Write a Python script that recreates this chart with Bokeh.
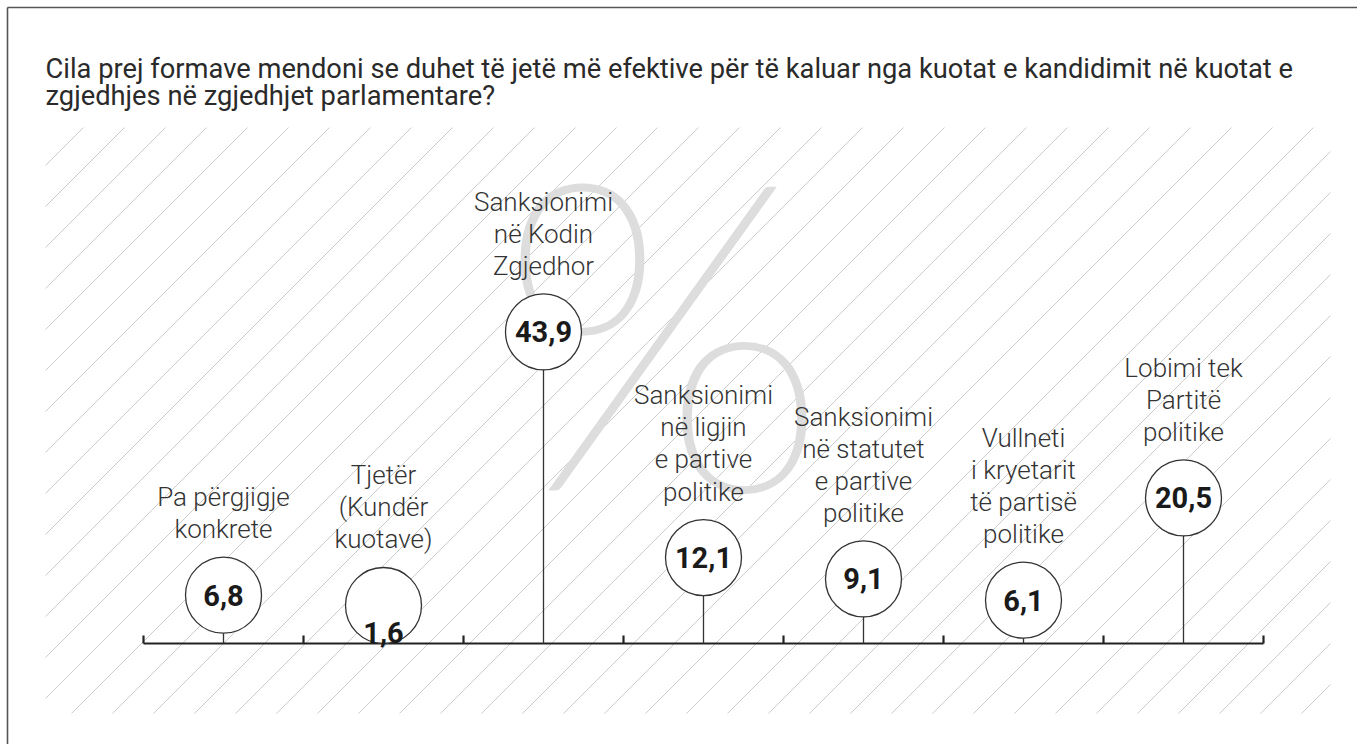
import numpy as np
from bokeh.plotting import figure
from bokeh.models import Range1d, ColumnDataSource
from bokeh.embed import file_html
from bokeh.resources import INLINE
from bokeh.core.properties import value

# ---------------- data ----------------
title_lines = [
    "Cila prej formave mendoni se duhet të jetë më efektive për të kaluar nga kuotat e kandidimit në kuotat e",
    "zgjedhjes në zgjedhjet parlamentare?",
]
categories = [
    "Pa përgjigje\nkonkrete",
    "Tjetër\n(Kundër\nkuotave)",
    "Sanksionimi\nnë Kodin\nZgjedhor",
    "Sanksionimi\nnë ligjin\ne partive\npolitike",
    "Sanksionimi\nnë statutet\ne partive\npolitike",
    "Vullneti\ni kryetarit\ntë partisë\npolitike",
    "Lobimi tek\nPartitë\npolitike",
]
values = [6.8, 1.6, 43.9, 12.1, 9.1, 6.1, 20.5]
value_labels = ["6,8", "1,6", "43,9", "12,1", "9,1", "6,1", "20,5"]

# ---------------- layout ----------------
W, H = 1357, 744
PX_PER_X = 160.0      # pixels per category
PX_PER_Y = 7.1        # pixels per percentage point
FIRST_X = 223
AXIS_Y = 643
R = 38                # circle radius, px

x_start = (0 - FIRST_X) / PX_PER_X
x_end = (W - FIRST_X) / PX_PER_X
y_start = -(H - AXIS_Y) / PX_PER_Y
y_end = AXIS_Y / PX_PER_Y

p = figure(width=W, height=H,
           x_range=Range1d(x_start, x_end), y_range=Range1d(y_start, y_end),
           x_axis_type=None, y_axis_type=None,
           toolbar_location=None, output_backend="svg",
           min_border=0, outline_line_color=None,
           background_fill_color="white", border_fill_color="white")
p.extra_x_ranges = {"px": Range1d(0, W)}
p.extra_y_ranges = {"px": Range1d(H, 0)}

# ---------------- hatch background ----------------
HX0, HX1, HY0, HY1 = 45, 1330, 127, 713
c = np.arange(210, HX1 + HY1, 41.0)
hx0 = np.maximum(HX0, c - HY1)
hx1 = np.minimum(HX1, c - HY0)
keep = hx1 > hx0
hx0, hx1, c = hx0[keep], hx1[keep], c[keep]
p.segment(x0=hx0, y0=c - hx0, x1=hx1, y1=c - hx1,
          x_range_name="px", y_range_name="px",
          line_color="#cccccc", line_width=1)

# ---------------- big percent sign ----------------
p.text(x=[663], y=[323], text=["%"], x_range_name="px", y_range_name="px",
       text_font=value("Lato Thin"), text_font_size="432px",
       text_align="center", text_baseline="middle", text_color="#dddddd")

# ---------------- axis ----------------
n = len(values)
idx = np.arange(n, dtype=float)
bounds = np.arange(n + 1) - 0.5
p.segment(x0=[bounds[0]], y0=[0], x1=[bounds[-1]], y1=[0],
          line_color="#222222", line_width=2.2)
p.segment(x0=bounds, y0=np.zeros(n + 1), x1=bounds, y1=np.full(n + 1, 8 / PX_PER_Y),
          line_color="#222222", line_width=2.2)

# ---------------- lollipops ----------------
vals = np.array(values)
min_center = R / PX_PER_Y
centers = np.maximum(vals, min_center)
src = ColumnDataSource(dict(x=idx, v=vals, c=centers, lab=value_labels, cat=categories,
                            zero=np.zeros(n)))
p.segment(x0="x", y0="zero", x1="x", y1="c", source=src,
          line_color="#333333", line_width=1.3)
p.scatter(x="x", y="c", source=src, marker="circle", size=2 * R,
          fill_color="white", line_color="#333333", line_width=1.3)
p.text(x="x", y="v", text="lab", source=src,
       text_font=value("Roboto"), text_font_style="bold", text_font_size="29px",
       text_align="center", text_baseline="middle", text_color="#1a1a1a")
p.text(x="x", y="c", text="cat", source=src, y_offset=-(R + 13),
       text_font=value("Roboto Light"), text_font_size="26px", text_line_height=1.07,
       text_align="center", text_baseline="bottom", text_color="#333333")

# ---------------- title ----------------
p.text(x=[45, 45], y=[68, 95], text=title_lines, x_range_name="px", y_range_name="px",
       text_font=value("Roboto"), text_font_size="27.3px",
       text_align="left", text_baseline="alphabetic", text_color="#2a2a2a")

# ---------------- frame border ----------------
p.segment(x0=[7, 7], y0=[H, 7], x1=[7, W], y1=[7, 7],
          x_range_name="px", y_range_name="px", line_color="#555555", line_width=1.6)

open("out.html", "w").write(file_html(p, INLINE))
